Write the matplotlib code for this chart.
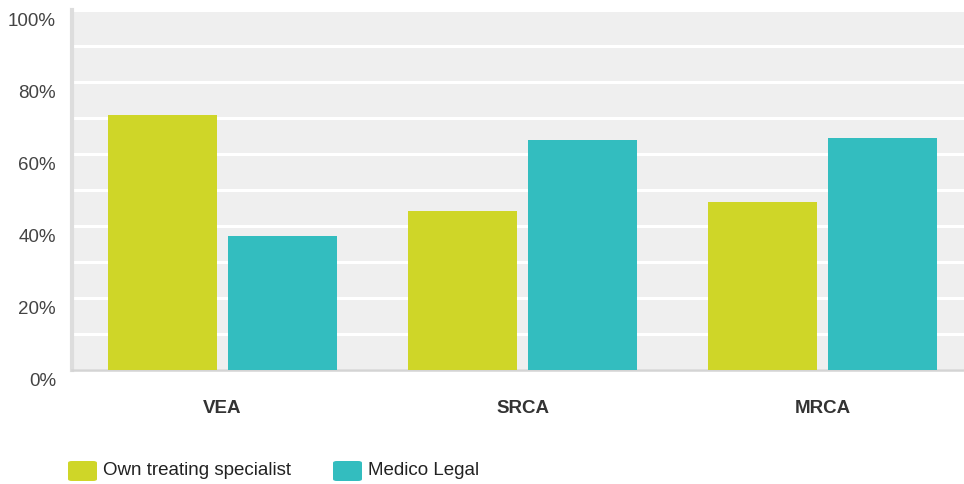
import matplotlib.pyplot as plt
import numpy as np
from matplotlib.transforms import ScaledTranslation
from matplotlib.patches import FancyBboxPatch

plt.rcParams['font.family'] = ['Liberation Sans', 'DejaVu Sans']

categories = ['VEA', 'SRCA', 'MRCA']
series_names = ['Own treating specialist', 'Medico Legal']
own_treating = [70.8, 44.2, 46.7]
medico_legal = [37.2, 63.9, 64.4]
colors = ['#CFD628', '#33BDBF']
yticks = [0, 20, 40, 60, 80, 100]


def main():
    fig = plt.figure(figsize=(9.64, 4.85), dpi=100)
    ax = fig.add_axes([72 / 964, 114 / 485, 1 - 72 / 964, 360 / 485])
    ax.set_facecolor('#EFEFEF')

    x = np.arange(len(categories))
    width = 0.363
    ax.bar(x - 0.2, own_treating, width, color=colors[0], zorder=3)
    ax.bar(x + 0.2, medico_legal, width, color=colors[1], zorder=3)

    ax.set_xlim(-0.5, 2.47)
    ax.set_ylim(0, 100)

    # white gridlines every 10%
    ax.set_yticks(np.arange(0, 101, 10), minor=True)
    ax.yaxis.grid(True, which='both', color='white', linewidth=2.2, zorder=1)
    ax.set_yticks(yticks)
    ax.set_yticklabels([f'{v}%' for v in yticks])
    ax.tick_params(axis='y', which='both', length=0, pad=11.5,
                   labelsize=13.5, labelcolor='#444444')
    offset = ScaledTranslation(0, -8.5 / 100, fig.dpi_scale_trans)
    for lab in ax.get_yticklabels():
        lab.set_transform(lab.get_transform() + offset)

    ax.set_xticks(x)
    ax.set_xticklabels(categories, fontweight='bold')
    ax.tick_params(axis='x', length=0, pad=21, labelsize=13.5,
                   labelcolor='#333333')

    for side in ['top', 'right']:
        ax.spines[side].set_visible(False)
    ax.spines['left'].set_color('#DDDDDD')
    ax.spines['left'].set_linewidth(3)
    ax.spines['bottom'].set_color('#D4D4D4')
    ax.spines['bottom'].set_linewidth(1.8)
    ax.set_axisbelow(True)

    # legend drawn by hand to get rounded swatches
    for (x0, name, c) in [(68, series_names[0], colors[0]),
                          (333, series_names[1], colors[1])]:
        box = FancyBboxPatch((x0 / 964, 3 / 485), 29 / 964, 20 / 485,
                             boxstyle='round,pad=0,rounding_size=0.004',
                             transform=fig.transFigure, facecolor=c,
                             edgecolor='none')
        fig.add_artist(box)
        fig.text((x0 + 35) / 964, 14 / 485, name, fontsize=13.5,
                 color='#222222', va='center', ha='left')

    fig.savefig('out.png', dpi=100)


if __name__ == '__main__':
    main()
